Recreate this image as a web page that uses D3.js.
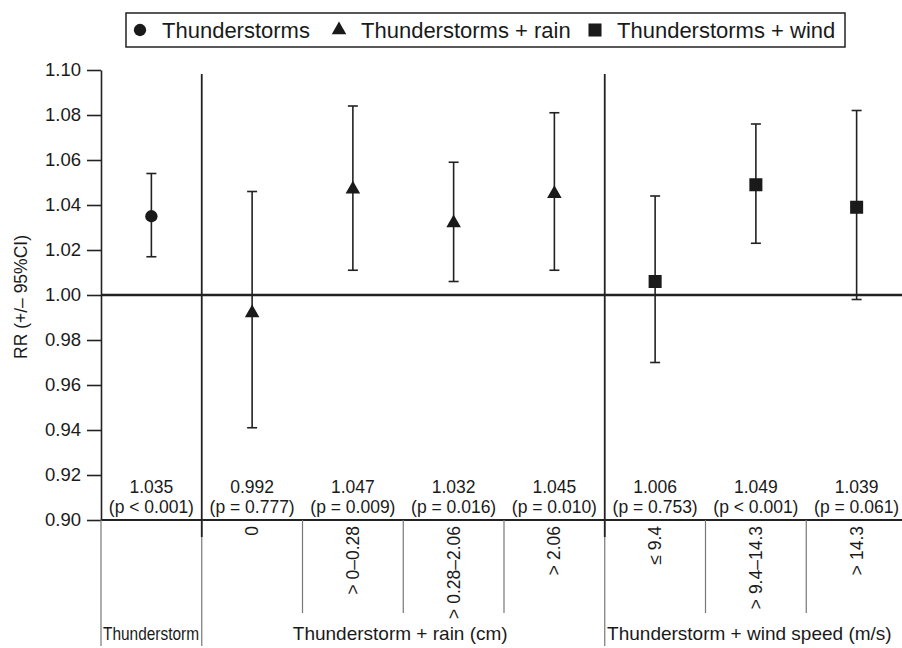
<!DOCTYPE html>
<html>
<head>
<meta charset="utf-8">
<script src="https://cdn.jsdelivr.net/npm/d3@7"></script>
<style>
  body { margin: 0; background: #fff; }
  text { font-family: "Liberation Sans", Arial, sans-serif; fill: #1a1a1a; }
</style>
</head>
<body>
<div id="chart-area"></div>
<script>
var categories = ['all', '0', '> 0–0.28', '> 0.28–2.06', '> 2.06', '≤ 9.4', '> 9.4–14.3', '> 14.3'];
var rr = [1.035, 0.992, 1.047, 1.032, 1.045, 1.006, 1.049, 1.039];
var lower = [1.017, 0.941, 1.011, 1.006, 1.011, 0.970, 1.023, 0.998];
var upper = [1.054, 1.046, 1.084, 1.059, 1.081, 1.044, 1.076, 1.082];
var pLabels = ['(p < 0.001)', '(p = 0.777)', '(p = 0.009)', '(p = 0.016)', '(p = 0.010)', '(p = 0.753)', '(p < 0.001)', '(p = 0.061)'];
var markers = ['circle', 'triangle', 'triangle', 'triangle', 'triangle', 'square', 'square', 'square'];
var groupNames = ['Thunderstorm', 'Thunderstorm + rain (cm)', 'Thunderstorm + wind speed (m/s)'];
var groupStart = [0, 1, 5];
var groupEnd = [1, 5, 8];
var legendNames = ['Thunderstorms', 'Thunderstorms + rain', 'Thunderstorms + wind'];
var legendMarkers = ['circle', 'triangle', 'square'];
var yTicks = [0.90, 0.92, 0.94, 0.96, 0.98, 1.00, 1.02, 1.04, 1.06, 1.08, 1.10];

var W = 902, H = 648;
var plot = { left: 101, right: 907, top: 70, bottom: 520 };
var ink = '#222';

var svg = d3.select('#chart-area')
	.append('svg')
	.attr('width', W)
	.attr('height', H);

var x = d3.scaleBand()
	.domain(categories)
	.range([plot.left, plot.right])
	.padding(0);
var y = d3.scaleLinear()
	.domain([0.90, 1.10])
	.range([plot.bottom, plot.top]);
var bw = x.bandwidth();
var cx = d => x(d) + bw / 2;

var symbolType = { circle: d3.symbolCircle, triangle: d3.symbolTriangle, square: d3.symbolSquare };
var symbolSize = { circle: 120, triangle: 92, square: 170 };

// y axis
var yAxisCall = d3.axisLeft(y)
	.tickValues(yTicks)
	.tickFormat(d3.format('.2f'))
	.tickSize(14)
	.tickSizeOuter(0)
	.tickPadding(6);
var yAxis = svg.append('g')
	.attr('transform', `translate(${plot.left}, 0)`)
	.call(yAxisCall);
yAxis.selectAll('path, line').attr('stroke', ink).attr('stroke-width', 1.6);
yAxis.selectAll('text').attr('font-size', '18.5px').style('font-family', '"Liberation Sans", Arial, sans-serif').attr('fill', '#1a1a1a');

svg.append('text')
	.attr('transform', `translate(21, ${(plot.top + plot.bottom) / 2 + 2}) rotate(-90)`)
	.attr('text-anchor', 'middle')
	.attr('dominant-baseline', 'central')
	.attr('font-size', '17.5px')
	.text('RR (+/– 95%CI)');

// reference line and baseline
svg.append('line')
	.attr('x1', plot.left).attr('x2', W)
	.attr('y1', y(1)).attr('y2', y(1))
	.attr('stroke', ink).attr('stroke-width', 2.6);
svg.append('line')
	.attr('x1', plot.left).attr('x2', W)
	.attr('y1', y(0.90)).attr('y2', y(0.90))
	.attr('stroke', ink).attr('stroke-width', 1.8);

// table lines below the axis
categories.forEach((c, i) => {
	var isGroupEdge = groupStart.indexOf(i) >= 0;
	svg.append('line')
		.attr('x1', x(c)).attr('x2', x(c))
		.attr('y1', plot.bottom).attr('y2', isGroupEdge ? 646 : 613)
		.attr('stroke', '#777').attr('stroke-width', 1.2);
});

// group separators
[groupStart[1], groupStart[2]].forEach(i => {
	svg.append('line')
		.attr('x1', x(categories[i])).attr('x2', x(categories[i]))
		.attr('y1', 74).attr('y2', 537)
		.attr('stroke', ink).attr('stroke-width', 1.8);
});

// error bars
var bars = svg.append('g').selectAll('g')
	.data(categories)
	.enter().append('g');
bars.append('line')
	.attr('x1', d => cx(d)).attr('x2', d => cx(d))
	.attr('y1', (d, i) => y(lower[i])).attr('y2', (d, i) => y(upper[i]))
	.attr('stroke', ink).attr('stroke-width', 1.6);
bars.append('line')
	.attr('x1', d => cx(d) - 5).attr('x2', d => cx(d) + 5)
	.attr('y1', (d, i) => y(upper[i])).attr('y2', (d, i) => y(upper[i]))
	.attr('stroke', ink).attr('stroke-width', 1.6);
bars.append('line')
	.attr('x1', d => cx(d) - 5).attr('x2', d => cx(d) + 5)
	.attr('y1', (d, i) => y(lower[i])).attr('y2', (d, i) => y(lower[i]))
	.attr('stroke', ink).attr('stroke-width', 1.6);
bars.append('path')
	.attr('transform', (d, i) => `translate(${cx(d)}, ${y(rr[i])})`)
	.attr('d', (d, i) => d3.symbol(symbolType[markers[i]], symbolSize[markers[i]])())
	.attr('fill', '#1a1a1a');

// value and p labels
bars.append('text')
	.attr('x', d => cx(d))
	.attr('y', 492.5)
	.attr('text-anchor', 'middle')
	.attr('font-size', '17.5px')
	.text((d, i) => d3.format('.3f')(rr[i]));
bars.append('text')
	.attr('x', d => cx(d))
	.attr('y', 513)
	.attr('text-anchor', 'middle')
	.attr('font-size', '17.5px')
	.text((d, i) => pLabels[i]);

// rotated category labels
bars.filter((d, i) => i > 0).append('text')
	.attr('transform', d => `translate(${cx(d)}, 526) rotate(-90)`)
	.attr('text-anchor', 'end')
	.attr('dominant-baseline', 'central')
	.attr('font-size', '17.5px')
	.text(d => d);

// group labels
groupNames.forEach((g, i) => {
	var x0 = x(categories[groupStart[i]]);
	var x1 = groupEnd[i] < categories.length ? x(categories[groupEnd[i]]) : plot.right;
	var t = svg.append('text')
		.attr('x', i === 0 ? x0 + 2 : (x0 + Math.min(x1, W)) / 2 + (i === 2 ? -4 : -3))
		.attr('y', 640)
		.attr('text-anchor', i === 0 ? 'start' : 'middle')
		.attr('font-size', '19px')
		.text(g);
	if (i === 0) t.attr('textLength', 96).attr('lengthAdjust', 'spacingAndGlyphs');
});

// legend
var legend = svg.append('g');
legend.append('rect')
	.attr('x', 126).attr('y', 13)
	.attr('width', 719).attr('height', 34)
	.attr('fill', 'none')
	.attr('stroke', ink).attr('stroke-width', 1.5);
var legendX = [140, 339, 595];
legendNames.forEach((n, i) => {
	legend.append('path')
		.attr('transform', `translate(${legendX[i]}, 30)`)
		.attr('d', d3.symbol(symbolType[legendMarkers[i]], symbolSize[legendMarkers[i]])())
		.attr('fill', '#1a1a1a');
	legend.append('text')
		.attr('x', legendX[i] + 22)
		.attr('y', 38)
		.attr('font-size', '22px')
		.text(n);
});
</script>
</body>
</html>
